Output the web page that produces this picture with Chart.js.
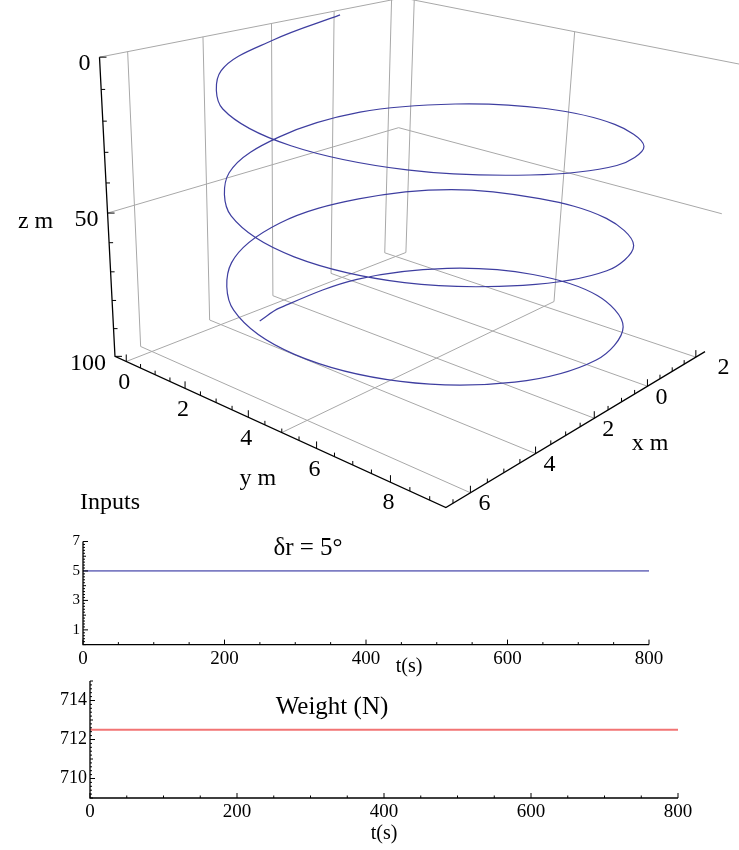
<!DOCTYPE html>
<html>
<head>
<meta charset="utf-8">
<script src="https://cdn.jsdelivr.net/npm/chart.js@4.4.1/dist/chart.umd.min.js"></script>
<style>
  html, body { margin: 0; padding: 0; background: #fff; }
  body { width: 739px; height: 850px; position: relative; overflow: hidden; }
  canvas { position: absolute; left: 0; }
  #helix { top: 0; }
  #inputs { top: 485px; }
  #weight { top: 670px; }
</style>
</head>
<body>
<canvas id="helix" width="739" height="520"></canvas>
<canvas id="inputs" width="739" height="195"></canvas>
<canvas id="weight" width="739" height="180"></canvas>
<script>
// trajectory (m), one sample every ~30 degrees of turn, z grows downwards
const pathX = [0.20, 2.57, 4.76, 6.27, 6.63, 5.80, 4.03, 1.76, -0.40, -1.88, -2.28, -1.40,
               0.36, 2.68, 4.81, 6.26, 6.64, 5.86, 4.11, 1.88, -0.25, -1.70, -2.08, -1.39,
               0.36, 2.50, 4.63, 6.08, 6.46, 5.68, 3.93, 1.70, -0.43, -1.88, -2.26, -1.48,
               0.27, 2.50, 3.25];
const pathY = [0.00, 0.28, 1.07, 2.88, 5.19, 7.35, 8.83, 9.23, 8.45, 6.68, 4.41, 2.34,
               0.87, 0.57, 1.33, 3.06, 5.29, 7.43, 8.89, 9.30, 8.53, 6.80, 4.57, 2.34,
               0.88, 0.39, 1.15, 2.88, 5.11, 7.25, 8.71, 9.12, 8.35, 6.62, 4.39, 2.25,
               0.79, 0.39, 0.51];
const pathZ = [0, 2.7, 5.4, 8.0, 10.7, 13.4, 16.1, 19.8, 23.4, 26.1, 28.3, 30.0,
               32.1, 34.8, 37.5, 40.2, 42.9, 45.5, 48.2, 51.9, 55.6, 58.3, 60.4, 62.1,
               64.3, 67.0, 69.6, 72.3, 75.0, 77.7, 80.4, 83.0, 85.7, 88.4, 91.1, 93.8,
               96.4, 99.1, 100];

const xRange = [-2.4, 6.7];
const yRange = [-0.4, 9.4];
const zRange = [0, 100];

const xTicks = [-2, 0, 2, 4, 6];
const xTickLabels = ["2", "0", "2", "4", "6"];   // the minus sign is lost in the original
const yTicks = [0, 2, 4, 6, 8];
const zTicks = [0, 50, 100];

const gridX = [-2, 0, 2, 4, 6];
const gridY = [0, 5];
const gridZ = [0, 50];

// inputs over time
const time = [0, 800];
const rudder = [5, 5];
const weight = [712.5, 712.5];
const tTicks = [0, 200, 400, 600, 800];
const rudderTicks = [1, 3, 5, 7];
const weightTicks = [710, 712, 714];

const serif = '"Liberation Serif", "Times New Roman", serif';

// ---- camera: fitted from where the box corners sit on the page ----
// [x frac, y frac, z frac, px, py]
const boxCorners = [
  [1, 0, 0, 100, 58], [1, 0, 0.5, 108, 211], [1, 0, 1, 114, 358],
  [1, 1, 1, 446, 507], [0, 1, 1, 703, 353], [0, 0, 1, 397, 249],
  [0, 0, 0.5, 399, 126], [0, 0, 0, 400, -1], [0, 1, 0.5, 722, 212],
  [0, 1, 0, 742, 65]
];
const S = 400, U0 = 370, V0 = 250;

function solve(M) {
  const n = M.length;
  for (let c = 0; c < n; c++) {
    let p = c;
    for (let r = c + 1; r < n; r++) if (Math.abs(M[r][c]) > Math.abs(M[p][c])) p = r;
    [M[c], M[p]] = [M[p], M[c]];
    for (let r = 0; r < n; r++) {
      if (r === c) continue;
      const f = M[r][c] / M[c][c];
      for (let k = c; k <= n; k++) M[r][k] -= f * M[c][k];
    }
  }
  return M.map((row, i) => row[n] / row[i]);
}

function fitCamera() {
  const n = 11;
  const M = Array.from({length: n}, () => new Array(n + 1).fill(0));
  boxCorners.forEach(([a, b, c, u, v]) => {
    const X = a - 0.5, Y = b - 0.5, Z = c - 0.5;
    const uu = (u - U0) / S, vv = (v - V0) / S;
    [[[X, Y, Z, 1, 0, 0, 0, 0, -uu * X, -uu * Y, -uu * Z], uu],
     [[0, 0, 0, 0, X, Y, Z, 1, -vv * X, -vv * Y, -vv * Z], vv]].forEach(([r, rhs]) => {
      for (let i = 0; i < n; i++) {
        for (let j = 0; j < n; j++) M[i][j] += r[i] * r[j];
        M[i][n] += r[i] * rhs;
      }
    });
  });
  return solve(M);
}
const P = fitCamera();

function project(x, y, z) {
  const X = (x - xRange[0]) / (xRange[1] - xRange[0]) - 0.5;
  const Y = (y - yRange[0]) / (yRange[1] - yRange[0]) - 0.5;
  const Z = (z - zRange[0]) / (zRange[1] - zRange[0]) - 0.5;
  const w = P[8] * X + P[9] * Y + P[10] * Z + 1;
  return {
    x: (P[0] * X + P[1] * Y + P[2] * Z + P[3]) / w * S + U0,
    y: (P[4] * X + P[5] * Y + P[6] * Z + P[7]) / w * S + V0
  };
}

function line3d(pts, color, width, order, tension) {
  return {
    data: pts.map(p => project(p[0], p[1], p[2])),
    showLine: true, borderColor: color, borderWidth: width,
    pointRadius: 0, tension: tension || 0, order: order, fill: false
  };
}

const gray = 'rgb(168,168,168)';
const [x0, x1] = xRange, [y0, y1] = yRange, [z0, z1] = zRange;
const sets3d = [];
gridX.forEach(x => sets3d.push(line3d([[x, y0, z0], [x, y0, z1], [x, y1, z1]], gray, 1, 5)));
gridY.forEach(y => sets3d.push(line3d([[x0, y, z0], [x0, y, z1], [x1, y, z1]], gray, 1, 5)));
gridZ.forEach(z => sets3d.push(line3d([[x1, y0, z], [x0, y0, z], [x0, y1, z]], gray, 1, 5)));
sets3d.push(line3d(pathX.map((x, i) => [x, pathY[i], pathZ[i]]), 'rgb(62,62,160)', 1.2, 0, 0.35));
sets3d.push(line3d([[x1, y0, z0], [x1, y0, z1], [x1, y1, z1], [x0, y1, z1]], '#000', 1.3, 1));

const boxPlugin = {
  id: 'box3d',
  afterDatasetsDraw(chart) {
    const {ctx, scales: {x: sx, y: sy}} = chart;
    const px = p => ({x: sx.getPixelForValue(p.x), y: sy.getPixelForValue(p.y)});
    const at = (x, y, z) => px(project(x, y, z));
    ctx.save();
    ctx.strokeStyle = '#000';
    ctx.lineWidth = 1;
    const tick = (p, dx, dy) => {
      ctx.beginPath(); ctx.moveTo(p.x, p.y); ctx.lineTo(p.x + dx, p.y + dy); ctx.stroke();
    };
    for (let i = 0; i <= 10; i++) {
      const z = i * 10;
      tick(at(x1, y0, z), z % 50 === 0 ? 7 : 4, 0);
    }
    for (let i = Math.ceil(y0 * 2); i <= Math.floor(y1 * 2); i++) {
      tick(at(x1, i / 2, z1), 0, i % 4 === 0 ? -7 : -4);
    }
    for (let i = Math.ceil(x0 * 2); i <= Math.floor(x1 * 2); i++) {
      tick(at(i / 2, y1, z1), 0, i % 4 === 0 ? -7 : -4);
    }
    ctx.fillStyle = '#000';
    ctx.font = '24px ' + serif;
    ctx.textBaseline = 'middle';
    ctx.textAlign = 'right';
    zTicks.forEach(z => {
      const p = at(x1, y0, z);
      ctx.fillText(String(z), p.x - 9, p.y + 7);
    });
    ctx.textAlign = 'center';
    yTicks.forEach(y => {
      const p = at(x1, y, z1);
      ctx.fillText(String(y), p.x - 2, p.y + 21);
    });
    ctx.textAlign = 'left';
    const minusW = ctx.measureText('\u2212').width;
    xTicks.forEach((x, i) => {
      const p = at(x, y1, z1);
      ctx.fillText(xTickLabels[i], p.x + 8 + (x < 0 ? minusW : 0), p.y + 11);
    });
    ctx.textAlign = 'center';
    let p = at(x1, y0, 50);
    ctx.fillText('z m', p.x - 72, p.y + 9);
    p = at(x1, (y0 + y1) / 2, z1);
    ctx.fillText('y m', p.x - 7, p.y + 54);
    p = at((x0 + x1) / 2, y1, z1);
    ctx.fillText('x m', p.x + 60, p.y + 23);
    ctx.restore();
  }
};

new Chart(document.getElementById('helix'), {
  type: 'scatter',
  data: {datasets: sets3d},
  options: {
    responsive: false, animation: false, events: [],
    layout: {padding: 0},
    plugins: {legend: {display: false}, tooltip: {enabled: false}},
    scales: {
      x: {type: 'linear', min: 0, max: 739, display: false},
      y: {type: 'linear', min: 0, max: 520, reverse: true, display: false}
    }
  },
  plugins: [boxPlugin]
});

// ---- 2D strip charts ----
function stripAxes(opt) {
  return {
    id: 'strip-' + opt.name,
    afterDatasetsDraw(chart) {
      const {ctx, chartArea: a, scales: {x, y}} = chart;
      ctx.save();
      ctx.strokeStyle = '#000';
      ctx.lineWidth = 1.3;
      ctx.beginPath();
      ctx.moveTo(a.left, a.top); ctx.lineTo(a.left, a.bottom); ctx.lineTo(a.right, a.bottom);
      ctx.stroke();
      ctx.lineWidth = 1;
      const [ymin, ymax] = opt.yRange;
      for (let i = Math.round(ymin * 5); i <= Math.round(ymax * 5); i++) {
        const v = i / 5;
        const py = y.getPixelForValue(v);
        let len = 2;
        if (i % 5 === 0) len = opt.yTicks.includes(v) ? 5 : 3;
        ctx.beginPath(); ctx.moveTo(a.left, py); ctx.lineTo(a.left + len, py); ctx.stroke();
      }
      for (let t = 0; t <= 800; t += 50) {
        const pxl = x.getPixelForValue(t);
        const len = t % 200 === 0 ? 5 : 2.5;
        ctx.beginPath(); ctx.moveTo(pxl, a.bottom); ctx.lineTo(pxl, a.bottom - len); ctx.stroke();
      }
      ctx.fillStyle = '#000';
      ctx.textBaseline = 'middle';
      ctx.textAlign = 'right';
      ctx.font = opt.yFont + 'px ' + serif;
      opt.yTicks.forEach(v => ctx.fillText(String(v), a.left - 3, y.getPixelForValue(v)));
      ctx.textAlign = 'center';
      ctx.font = opt.xFont + 'px ' + serif;
      tTicks.forEach(t => ctx.fillText(String(t), x.getPixelForValue(t), a.bottom + 14));
      ctx.font = '20px ' + serif;
      ctx.fillText('t(s)', opt.tLabel[0], opt.tLabel[1]);
      ctx.font = '25px ' + serif;
      ctx.fillText(opt.title, opt.titleAt[0], opt.titleAt[1]);
      if (opt.heading) {
        ctx.textAlign = 'left';
        ctx.font = '24px ' + serif;
        ctx.fillText(opt.heading, 80, 18);
      }
      ctx.restore();
    }
  };
}

function stripChart(id, values, color, width, yRange, padding, axisOpt) {
  return new Chart(document.getElementById(id), {
    type: 'scatter',
    data: {datasets: [{
      data: time.map((t, i) => ({x: t, y: values[i]})),
      showLine: true, borderColor: color, borderWidth: width, pointRadius: 0
    }]},
    options: {
      responsive: false, animation: false, events: [],
      layout: {padding: padding},
      plugins: {legend: {display: false}, tooltip: {enabled: false}},
      scales: {
        x: {type: 'linear', min: 0, max: 800, display: false},
        y: {type: 'linear', min: yRange[0], max: yRange[1], display: false}
      }
    },
    plugins: [stripAxes(Object.assign({yRange: yRange}, axisOpt))]
  });
}

stripChart('inputs', rudder, 'rgb(125,125,195)', 1.8, [0, 7],
  {left: 83, right: 90, top: 56.5, bottom: 35.4},
  {name: 'inputs', yTicks: rudderTicks, yFont: 15, xFont: 19,
   title: '\u03b4r = 5\u00b0', titleAt: [308, 63], tLabel: [409, 182], heading: 'Inputs'});

stripChart('weight', weight, 'rgb(242,116,116)', 2.2, [709, 715],
  {left: 90, right: 61, top: 11, bottom: 52},
  {name: 'weight', yTicks: weightTicks, yFont: 18, xFont: 19,
   title: 'Weight (N)', titleAt: [332, 37], tLabel: [384, 164]});
</script>
</body>
</html>
